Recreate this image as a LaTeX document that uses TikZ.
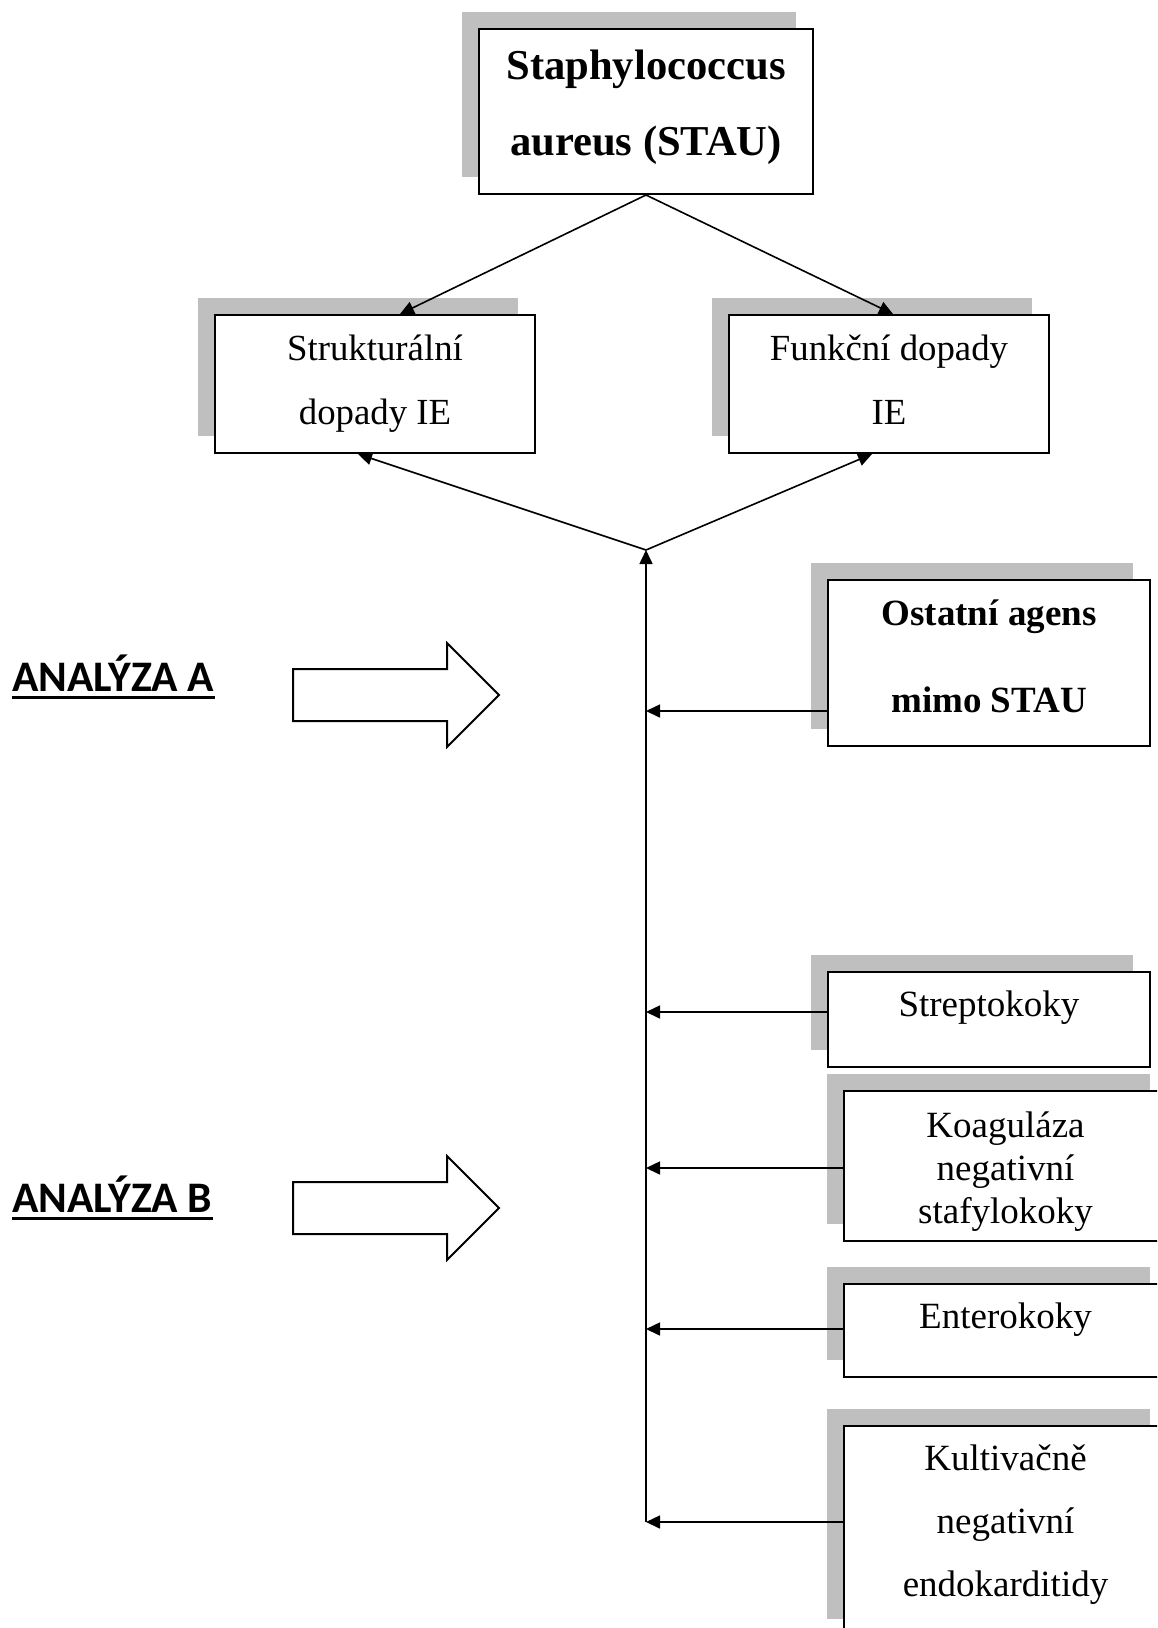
\documentclass[tikz,border=0pt]{standalone}
\usepackage{fontspec}
\setmainfont{Liberation Serif}
\newfontfamily\calibrifont{Carlito}
\usetikzlibrary{arrows.meta,shadows}

\tikzset{
  box/.style={draw, line width=1pt, fill=white, inner sep=0pt, align=center,
    general shadow={fill=gray!50, shadow xshift=-8.3pt, shadow yshift=8.3pt}},
  oneline/.style={text height=0pt, text depth=#1},
  manyline/.style={text height=#1, text depth=0pt},
  conn/.style={line width=0.8pt, -{Triangle[length=7pt,width=6.5pt]}},
  blockarrow/.style={draw, line width=1pt, fill=white},
  analyza/.style={font=\calibrifont\bfseries\fontsize{21.8pt}{25pt}\selectfont,
    inner sep=0pt, anchor=base west},
}

\begin{document}
\begin{tikzpicture}[x=0.5pt, y=-0.5pt]
  \clip (0,0) rectangle (1157,1628);

  % top part
  \node[box, minimum width=167pt, minimum height=82.5pt, manyline=43.5pt,
    font=\bfseries\fontsize{21.3pt}{38pt}\selectfont]
    (stau) at (646,111.5) {Staphylococcus\\aureus (STAU)};
  \node[box, minimum width=160pt, minimum height=69pt, manyline=40pt,
    font=\fontsize{18.4pt}{32pt}\selectfont]
    (struk) at (375,384) {Strukturální\\dopady IE};
  \node[box, minimum width=160pt, minimum height=69pt, manyline=40pt,
    font=\fontsize{18.4pt}{32pt}\selectfont]
    (funk) at (889,384) {Funkční dopady\\IE};

  % agens on the right
  \node[box, minimum width=161pt, minimum height=83pt, manyline=49pt,
    font=\bfseries\fontsize{18.5pt}{43.5pt}\selectfont]
    (ostatni) at (989,663) {Ostatní agens\\mimo STAU};
  \node[box, minimum width=161pt, minimum height=47.5pt, oneline=3.5pt,
    font=\fontsize{18.5pt}{22pt}\selectfont]
    (strepto) at (989,1019.5) {Streptokoky};
  \node[box, minimum width=161.5pt, minimum height=75pt, manyline=57pt,
    font=\fontsize{18.5pt}{21.5pt}\selectfont]
    (koag) at (1005.5,1166) {Koaguláza\\negativní\\stafylokoky};
  \node[box, minimum width=161.5pt, minimum height=46.5pt, oneline=2.5pt,
    font=\fontsize{18.5pt}{22pt}\selectfont]
    (entero) at (1005.5,1330.5) {Enterokoky};
  \node[box, minimum width=161.5pt, minimum height=105pt, manyline=65.5pt,
    font=\fontsize{18.5pt}{31.5pt}\selectfont]
    (kult) at (1005.5,1530.5) {Kultivačně\\negativní\\endokarditidy};

  % connectors
  \draw[conn] (stau.south) -- ([xshift=12.5pt]struk.north);
  \draw[conn] (stau.south) -- ([xshift=2pt]funk.north);
  \coordinate (join) at (646,550);
  \foreach \b/\y in {ostatni/711, strepto/1012, koag/1168, entero/1329, kult/1522} {
    \coordinate (t\b) at (646,\y);
    \draw[conn] (\b.west |- t\b) -- (t\b);
  }
  \draw[conn] (tkult) -- (join);
  \draw[conn] (join) -- ([xshift=-8.5pt]struk.south);
  \draw[conn] (join) -- ([xshift=-8.5pt]funk.south);

  % analyses
  \node[analyza] (anA) at (12,691) {ANALÝZA A};
  \node[analyza] (anB) at (12,1212) {ANALÝZA B};
  \foreach \n in {anA, anB}
    \draw[line width=1.5pt] ([yshift=-3pt]\n.base west) -- ([yshift=-3pt]\n.base east);
  \foreach \cy in {695, 1208}
    \draw[blockarrow] (293,\cy-26) -- (447,\cy-26) -- (447,\cy-52) -- (499,\cy)
      -- (447,\cy+52) -- (447,\cy+26) -- (293,\cy+26) -- cycle;
\end{tikzpicture}
\end{document}
